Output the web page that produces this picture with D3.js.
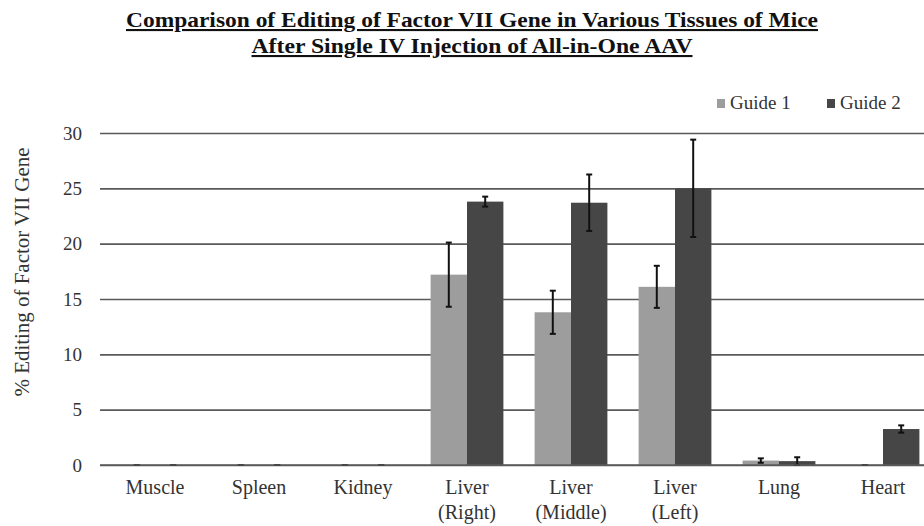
<!DOCTYPE html>
<html>
<head>
<meta charset="utf-8">
<script src="https://cdn.jsdelivr.net/npm/d3@7"></script>
<style>
  body { margin: 0; background: #fff; }
  svg { display: block; font-family: "Liberation Serif", "Times New Roman", serif; }
</style>
</head>
<body>
<script>
// tissues along the x axis (second line in parentheses)
var tissues = ["Muscle", "Spleen", "Kidney", "Liver (Right)", "Liver (Middle)", "Liver (Left)", "Lung", "Heart"];
var guides = ["Guide 1", "Guide 2"];

// % editing
var guide1 = [0, 0, 0, 17.2, 13.8, 16.1, 0.4, 0];
var guide2 = [0, 0, 0, 23.8, 23.7, 25.0, 0.35, 3.25];
// error bar half-widths
var guide1Err = [0, 0, 0, 2.9, 1.95, 1.9, 0.2, 0];
var guide2Err = [0, 0, 0, 0.45, 2.55, 4.4, 0.35, 0.33];

var yTicks = [0, 5, 10, 15, 20, 25, 30];
var colors = ["#9d9d9d", "#464646"];

var width = 924, height = 526;
var plotLeft = 103, plotRight = 935, plotTop = 133, plotBottom = 465;

var svg = d3.select("body").append("svg")
   .attr("width", width)
   .attr("height", height)
   .attr("font-family", "'Liberation Serif', 'Times New Roman', serif");

var x = d3.scaleBand()
   .domain(tissues)
   .range([plotLeft, plotRight])
   .paddingInner(0.3)
   .paddingOuter(0.15);

var xInner = d3.scaleBand()
   .domain(guides)
   .range([0, x.bandwidth()]);

var y = d3.scaleLinear()
   .domain([0, 30])
   .range([plotBottom, plotTop]);

// title, two underlined lines (condensed look)
var titleLines = [
   { text: "Comparison of Editing of Factor VII Gene in Various Tissues of Mice", y: 27, w: 692 },
   { text: "After Single IV Injection of All-in-One AAV", y: 53, w: 441 }
];
titleLines.forEach(function(t) {
   svg.append("text")
      .attr("x", 472)
      .attr("y", t.y)
      .attr("text-anchor", "middle")
      .attr("font-weight", "bold")
      .attr("font-size", 21)
      .attr("text-decoration", "underline")
      .attr("textLength", t.w)
      .attr("lengthAdjust", "spacingAndGlyphs")
      .attr("fill", "#111")
      .text(t.text);
});

// gridlines + y axis labels
var yAxis = d3.axisLeft(y)
   .tickValues(yTicks)
   .tickSize(-(plotRight - 100))
   .tickPadding(18);

var gy = svg.append("g")
   .attr("transform", "translate(100,0)")
   .call(yAxis);
gy.select(".domain").remove();
gy.selectAll(".tick line")
   .attr("stroke", "#5a5a5a")
   .attr("stroke-width", 1.6);
gy.selectAll(".tick text")
   .attr("font-family", "'Liberation Serif', 'Times New Roman', serif")
   .attr("font-size", 19)
   .attr("fill", "#333");

svg.append("text")
   .attr("transform", "translate(29," + 272 + ") rotate(-90)")
   .attr("text-anchor", "middle")
   .attr("font-size", 20)
   .attr("textLength", 249)
   .attr("lengthAdjust", "spacingAndGlyphs")
   .attr("fill", "#333")
   .text("% Editing of Factor VII Gene");

// bars
var rows = tissues.map(function(t, i) {
   return [
      { tissue: t, guide: guides[0], value: guide1[i], err: guide1Err[i], color: colors[0] },
      { tissue: t, guide: guides[1], value: guide2[i], err: guide2Err[i], color: colors[1] }
   ];
});

var groups = svg.append("g").selectAll("g")
   .data(rows)
   .enter().append("g")
   .attr("transform", function(d) { return "translate(" + x(d[0].tissue) + ",0)"; });

groups.selectAll("rect")
   .data(function(d) { return d; })
   .enter().append("rect")
   .attr("x", function(d) { return xInner(d.guide); })
   .attr("y", function(d) { return y(d.value); })
   .attr("width", xInner.bandwidth())
   .attr("height", function(d) { return y(0) - y(d.value); })
   .attr("fill", function(d) { return d.color; });

// zero line on top of bars
svg.append("line")
   .attr("x1", 100).attr("x2", plotRight)
   .attr("y1", y(0)).attr("y2", y(0))
   .attr("stroke", "#5a5a5a")
   .attr("stroke-width", 1.6);

// error bars
var eb = groups.selectAll("g.err")
   .data(function(d) { return d; })
   .enter().append("g")
   .attr("class", "err")
   .attr("stroke", "#111")
   .attr("stroke-width", 2);

var cx = function(d) { return xInner(d.guide) + xInner.bandwidth() / 2; };

eb.append("line")
   .attr("x1", cx).attr("x2", cx)
   .attr("y1", function(d) { return y(d.value + d.err); })
   .attr("y2", function(d) { return y(Math.max(0, d.value - d.err)); });
eb.append("line")
   .attr("x1", function(d) { return cx(d) - 3; })
   .attr("x2", function(d) { return cx(d) + 3; })
   .attr("y1", function(d) { return y(d.value + d.err); })
   .attr("y2", function(d) { return y(d.value + d.err); });
eb.append("line")
   .attr("x1", function(d) { return cx(d) - 3; })
   .attr("x2", function(d) { return cx(d) + 3; })
   .attr("y1", function(d) { return y(Math.max(0, d.value - d.err)); })
   .attr("y2", function(d) { return y(Math.max(0, d.value - d.err)); });

// category labels, split on the parenthesis
var xl = svg.append("g").selectAll("text")
   .data(tissues)
   .enter().append("text")
   .attr("text-anchor", "middle")
   .attr("font-size", 20)
   .attr("fill", "#333")
   .attr("transform", function(d) { return "translate(" + (x(d) + x.bandwidth() / 2) + ",0)"; });

xl.each(function(d) {
   var parts = d.split(" (");
   var t = d3.select(this);
   t.append("tspan").attr("x", 0).attr("y", 494).text(parts[0]);
   if (parts[1]) t.append("tspan").attr("x", 0).attr("y", 519).text("(" + parts[1]);
});

// legend
var legendX = [717, 827];
var legend = svg.append("g").selectAll("g")
   .data(guides)
   .enter().append("g")
   .attr("transform", function(d, i) { return "translate(" + legendX[i] + ",103)"; });
legend.append("rect")
   .attr("x", 0).attr("y", -4)
   .attr("width", 8).attr("height", 9)
   .attr("fill", function(d, i) { return colors[i]; });
legend.append("text")
   .attr("x", 13).attr("y", 6)
   .attr("font-size", 19)
   .attr("fill", "#333")
   .text(function(d) { return d; });
</script>
</body>
</html>
